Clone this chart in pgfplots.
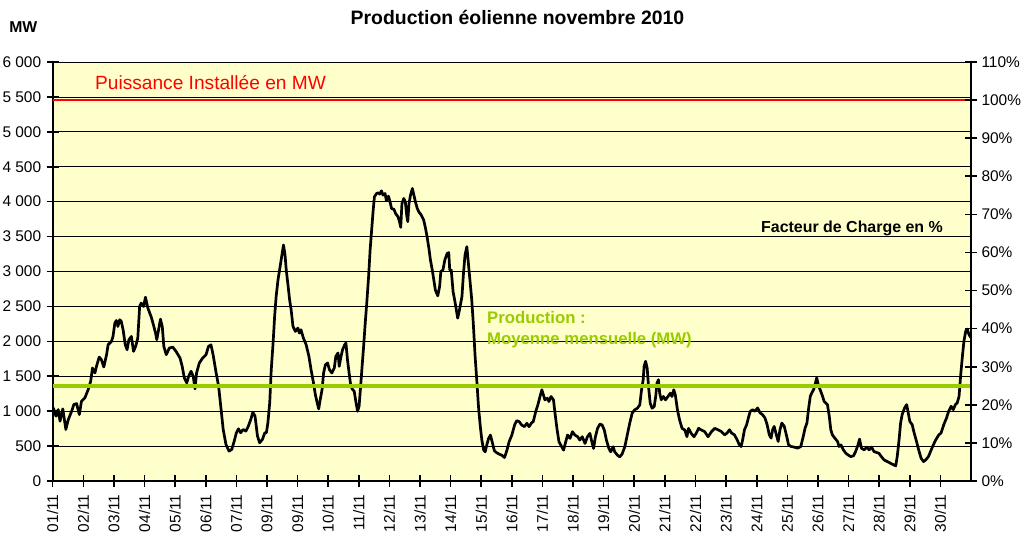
\documentclass[border=0pt]{standalone}
\usepackage{fontspec}
\setmainfont{Liberation Sans}
\usepackage{pgfplots}
\pgfplotsset{compat=1.18}
\definecolor{bgyellow}{RGB}{255,255,204}
\definecolor{limeg}{RGB}{153,204,0}
\newcommand{\tickfont}{\fontsize{15.5}{17}\selectfont}
\begin{document}
\begin{tikzpicture}
\useasboundingbox (-52.7bp,-61bp) rectangle (974.3bp,481bp);
\begin{axis}[
  at={(0,0)}, anchor=south west,
  scale only axis, width=918.3bp, height=419bp,
  xmin=0, xmax=30, ymin=0, ymax=6000,
  axis background/.style={fill=bgyellow},
  axis x line*=bottom, axis y line*=left,
  axis line style={-, black, line width=2bp},
  xtick={0,...,29},
  xticklabels={01/11,02/11,03/11,04/11,05/11,06/11,07/11,09/11,09/11,10/11,11/11,12/11,13/11,14/11,15/11,16/11,17/11,18/11,19/11,20/11,21/11,22/11,23/11,24/11,25/11,26/11,27/11,28/11,29/11,30/11},
  x tick label style={rotate=90, anchor=east, font=\tickfont},
  xticklabel shift=4bp,
  ytick={0,500,...,6000},
  yticklabels={0,500,1 000,1 500,2 000,2 500,3 000,3 500,4 000,4 500,5 000,5 500,6 000},
  y tick label style={font=\tickfont},
  yticklabel shift=2bp,
  ymajorgrids, major grid style={black, line width=0.8bp},
  tick align=center, major tick length=12bp,
  tick style={black, line width=1.6bp},
  clip=false,
]
\addplot[black, line width=2.7bp, line join=round] coordinates {
(0.02,1047)(0.11,928)(0.18,1023)(0.24,857)(0.33,1033)(0.43,738)(0.51,880)(0.62,1000)(0.69,1095)(0.78,1109)(0.87,952)(0.94,1142)(1.05,1190)(1.16,1309)(1.24,1428)(1.30,1618)(1.38,1547)(1.43,1642)(1.52,1775)(1.59,1737)(1.67,1633)(1.76,1809)(1.81,1951)(1.92,1999)(1.97,2070)(2.03,2261)(2.08,2299)(2.13,2213)(2.19,2309)(2.24,2285)(2.30,2166)(2.37,1951)(2.43,1880)(2.49,2023)(2.57,2070)(2.64,1856)(2.71,1928)(2.78,2047)(2.84,2499)(2.89,2547)(2.97,2499)(3.03,2632)(3.11,2475)(3.22,2347)(3.29,2237)(3.36,2118)(3.40,2023)(3.46,2166)(3.52,2318)(3.58,2213)(3.63,1928)(3.71,1809)(3.81,1904)(3.92,1918)(4.03,1856)(4.16,1761)(4.23,1642)(4.30,1476)(4.38,1404)(4.44,1499)(4.52,1571)(4.59,1499)(4.65,1319)(4.70,1547)(4.79,1690)(4.90,1761)(5.01,1809)(5.09,1928)(5.17,1951)(5.24,1809)(5.33,1571)(5.42,1357)(5.49,1071)(5.57,738)(5.66,524)(5.76,428)(5.85,452)(5.93,571)(6.00,690)(6.07,747)(6.14,690)(6.22,738)(6.31,714)(6.39,785)(6.47,880)(6.54,985)(6.61,928)(6.69,643)(6.76,547)(6.85,595)(6.93,690)
(6.98,690)(7.03,833)(7.09,1119)(7.14,1595)(7.20,1975)(7.25,2356)(7.30,2642)(7.36,2880)(7.43,3070)(7.48,3213)(7.54,3380)(7.59,3237)(7.63,3023)(7.68,2832)(7.74,2594)(7.79,2451)(7.85,2213)(7.93,2142)(8.01,2190)(8.06,2118)(8.11,2166)(8.19,2047)(8.28,1952)(8.37,1785)(8.44,1595)(8.52,1404)(8.58,1238)(8.64,1119)(8.69,1033)(8.74,1166)(8.80,1309)(8.85,1547)(8.91,1666)(8.98,1690)(9.04,1595)(9.12,1547)(9.20,1618)(9.25,1785)(9.32,1833)(9.36,1642)(9.42,1785)(9.47,1880)(9.54,1952)(9.58,1975)(9.63,1737)(9.69,1523)(9.74,1357)(9.80,1309)(9.85,1285)(9.91,1119)(9.96,1000)(10.01,1071)(10.06,1357)(10.10,1595)(10.15,1880)(10.21,2261)(10.26,2547)(10.32,2927)(10.37,3308)(10.42,3594)(10.47,3879)(10.51,4070)(10.58,4117)(10.64,4127)(10.68,4108)(10.74,4155)(10.79,4094)(10.86,4117)(10.90,4013)(10.97,4079)(11.02,3998)(11.07,3903)(11.15,3889)(11.20,3832)(11.28,3784)(11.33,3713)(11.37,3632)(11.41,3975)(11.47,4046)(11.52,3998)(11.57,3784)(11.60,3713)(11.64,3975)(11.69,4094)(11.75,4189)(11.80,4094)(11.85,3998)(11.91,3903)(11.96,3856)(12.04,3808)(12.12,3737)(12.18,3618)(12.23,3499)(12.29,3332)(12.34,3165)(12.40,3023)(12.45,2880)(12.50,2737)(12.58,2651)(12.64,2785)(12.68,2999)(12.75,3023)(12.81,3165)(12.89,3261)(12.94,3270)(12.97,3023)(13.02,3023)(13.08,2713)(13.15,2547)(13.23,2332)(13.29,2451)(13.37,2642)(13.42,2975)(13.47,3237)(13.53,3356)(13.58,3118)(13.65,2785)(13.69,2594)(13.74,2261)(13.80,1785)(13.86,1404)
(13.91,1066)(13.97,778)(14.02,586)(14.08,442)(14.13,418)(14.18,514)(14.24,610)(14.30,658)(14.37,538)(14.43,432)(14.51,403)(14.59,384)(14.67,370)(14.76,336)(14.84,442)(14.91,562)(15.00,658)(15.09,802)(15.16,864)(15.24,850)(15.32,802)(15.41,778)(15.49,826)(15.56,778)(15.65,835)(15.70,850)(15.78,994)(15.85,1090)(15.92,1210)(15.98,1306)(16.03,1234)(16.08,1162)(16.16,1186)(16.21,1138)(16.28,1210)(16.36,1162)(16.41,970)(16.48,730)(16.54,562)(16.63,490)(16.69,442)(16.76,562)(16.82,658)(16.90,610)(16.98,706)(17.06,658)(17.15,634)(17.22,586)(17.30,634)(17.39,538)(17.47,634)(17.55,682)(17.60,586)(17.67,466)(17.73,634)(17.80,754)(17.88,816)(17.95,802)(18.02,730)(18.09,586)(18.17,466)(18.23,418)(18.31,490)(18.36,418)(18.45,370)(18.52,346)(18.60,384)(18.69,490)(18.77,658)(18.85,826)(18.93,970)(19.01,1018)(19.10,1042)(19.18,1090)(19.23,1282)(19.29,1450)(19.32,1642)(19.37,1714)(19.42,1618)(19.47,1330)(19.52,1114)(19.58,1042)(19.65,1066)(19.70,1210)(19.74,1402)(19.79,1450)(19.83,1258)(19.88,1162)(19.95,1210)(20.02,1162)(20.10,1210)(20.18,1258)(20.23,1210)(20.29,1306)(20.34,1234)(20.41,1018)(20.48,874)(20.56,754)(20.65,730)(20.72,634)(20.77,754)(20.86,682)(20.95,634)(21.02,682)(21.10,754)(21.19,730)(21.30,706)(21.41,634)(21.52,706)(21.63,754)
(21.73,734)(21.84,710)(21.95,662)(22.03,686)(22.11,734)(22.18,686)(22.27,662)(22.36,590)(22.43,518)(22.49,494)(22.54,590)(22.60,734)(22.67,806)(22.74,926)(22.79,998)(22.87,1022)(22.94,998)(23.03,1046)(23.11,974)(23.19,950)(23.27,902)(23.34,806)(23.41,662)(23.47,614)(23.52,734)(23.57,782)(23.64,662)(23.70,566)(23.76,734)(23.82,830)(23.90,782)(23.98,638)(24.04,518)(24.12,494)(24.23,485)(24.33,470)(24.44,494)(24.52,638)(24.58,758)(24.64,830)(24.69,1022)(24.75,1214)(24.80,1262)(24.86,1310)(24.92,1406)(24.96,1478)(25.02,1358)(25.07,1310)(25.15,1214)(25.20,1142)(25.31,1094)(25.37,926)(25.42,734)(25.47,662)(25.55,614)(25.64,566)(25.69,494)(25.75,518)(25.83,446)(25.91,398)(25.98,374)(26.07,350)(26.16,360)(26.23,422)(26.31,518)(26.36,600)(26.42,470)(26.51,446)(26.60,485)(26.67,446)(26.75,485)(26.83,422)(26.92,408)(26.99,398)(27.07,350)(27.16,302)(27.27,278)(27.37,254)(27.48,230)(27.54,216)(27.59,350)(27.65,590)(27.70,830)(27.75,950)(27.83,1046)(27.90,1094)(27.95,974)(28.00,854)(28.08,806)(28.13,710)(28.22,566)(28.29,446)(28.37,326)(28.45,278)(28.52,302)(28.61,350)(28.70,446)(28.77,518)(28.85,590)(28.95,662)(29.02,686)(29.11,806)(29.20,902)(29.27,998)(29.35,1070)(29.42,1022)(29.49,1094)(29.55,1118)(29.61,1214)(29.66,1502)(29.72,1790)(29.77,2006)(29.83,2150)(29.88,2174)(29.93,2102)(29.99,2054)
};
\addplot[red, line width=2.8bp] coordinates {(0,5455) (30,5455)};
\addplot[limeg, line width=4.2bp] coordinates {(0,1362) (30,1362)};
\end{axis}
\begin{axis}[
  at={(0,0)}, anchor=south west,
  scale only axis, width=918.3bp, height=419bp,
  xmin=0, xmax=30, ymin=0, ymax=110,
  axis x line=none, axis y line*=right,
  axis line style={-, black, line width=2bp},
  ytick={0,10,...,110},
  yticklabels={0\%,10\%,20\%,30\%,40\%,50\%,60\%,70\%,80\%,90\%,100\%,110\%},
  y tick label style={font=\tickfont},
  yticklabel shift=1bp,
  tick align=center, major tick length=12bp,
  tick style={black, line width=1.6bp},
]
\addplot[draw=none] coordinates {(0,0) (30,110)};
\end{axis}
\node[font=\bfseries\fontsize{19.5}{22}\selectfont] at (464.8bp,464bp) {Production éolienne novembre 2010};
\node[font=\bfseries\fontsize{15.8}{18}\selectfont] at (-29.4bp,454bp) {MW};
\node[anchor=west, text=red, font=\fontsize{19.2}{22}\selectfont, inner sep=0pt] at (42.3bp,398bp) {Puissance Installée en MW};
\node[anchor=east, font=\bfseries\fontsize{16}{18}\selectfont, inner sep=0pt] at (890.3bp,253bp) {Facteur de Charge en \%};
\node[anchor=west, text=limeg, font=\bfseries\fontsize{16.8}{19}\selectfont, inner sep=0pt] at (434.3bp,163bp) {Production :};
\node[anchor=west, text=limeg, font=\bfseries\fontsize{16.8}{19}\selectfont, inner sep=0pt] at (434.3bp,141bp) {Moyenne mensuelle (MW)};
\end{tikzpicture}
\end{document}
